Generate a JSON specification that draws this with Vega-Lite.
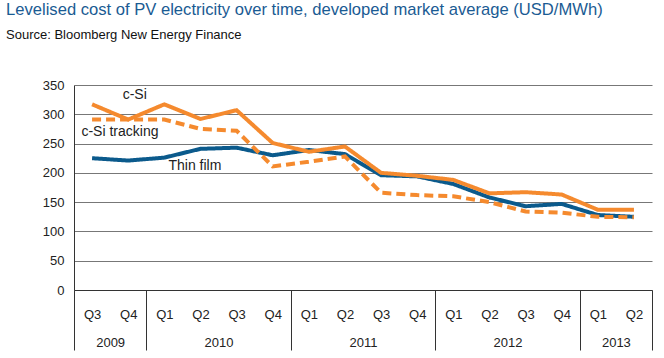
{
  "$schema": "https://vega.github.io/schema/vega-lite/v6.json",
  "width": 578,
  "height": 205,
  "autosize": {"type": "none"},
  "padding": {"left": 74, "top": 85, "right": 12, "bottom": 68},
  "background": "white",
  "title": {
    "text": "Levelised cost of PV electricity over time, developed market average (USD/MWh)",
    "subtitle": "Source: Bloomberg New Energy Finance",
    "anchor": "start",
    "frame": "group",
    "dx": -68,
    "offset": 37,
    "font": "Liberation Sans",
    "fontSize": 16.6,
    "fontWeight": "normal",
    "color": "#1a5b93",
    "subtitleFont": "Liberation Sans",
    "subtitleFontSize": 13,
    "subtitleColor": "#111111",
    "subtitlePadding": 10
  },
  "config": {"view": {"stroke": null}, "font": "Liberation Sans"},
  "datasets": {
    "lcoe": [
      {"period": "2009 Q3", "t": 2009.625, "series": "Thin film", "value": 225},
      {"period": "2009 Q4", "t": 2009.875, "series": "Thin film", "value": 221},
      {"period": "2010 Q1", "t": 2010.125, "series": "Thin film", "value": 226},
      {"period": "2010 Q2", "t": 2010.375, "series": "Thin film", "value": 241},
      {"period": "2010 Q3", "t": 2010.625, "series": "Thin film", "value": 243},
      {"period": "2010 Q4", "t": 2010.875, "series": "Thin film", "value": 230},
      {"period": "2011 Q1", "t": 2011.125, "series": "Thin film", "value": 239},
      {"period": "2011 Q2", "t": 2011.375, "series": "Thin film", "value": 232},
      {"period": "2011 Q3", "t": 2011.625, "series": "Thin film", "value": 196},
      {"period": "2011 Q4", "t": 2011.875, "series": "Thin film", "value": 194},
      {"period": "2012 Q1", "t": 2012.125, "series": "Thin film", "value": 181},
      {"period": "2012 Q2", "t": 2012.375, "series": "Thin film", "value": 158},
      {"period": "2012 Q3", "t": 2012.625, "series": "Thin film", "value": 143},
      {"period": "2012 Q4", "t": 2012.875, "series": "Thin film", "value": 147},
      {"period": "2013 Q1", "t": 2013.125, "series": "Thin film", "value": 128},
      {"period": "2013 Q2", "t": 2013.375, "series": "Thin film", "value": 125},
      {"period": "2009 Q3", "t": 2009.625, "series": "c-Si", "value": 317},
      {"period": "2009 Q4", "t": 2009.875, "series": "c-Si", "value": 291},
      {"period": "2010 Q1", "t": 2010.125, "series": "c-Si", "value": 317},
      {"period": "2010 Q2", "t": 2010.375, "series": "c-Si", "value": 292},
      {"period": "2010 Q3", "t": 2010.625, "series": "c-Si", "value": 307},
      {"period": "2010 Q4", "t": 2010.875, "series": "c-Si", "value": 251},
      {"period": "2011 Q1", "t": 2011.125, "series": "c-Si", "value": 236},
      {"period": "2011 Q2", "t": 2011.375, "series": "c-Si", "value": 245},
      {"period": "2011 Q3", "t": 2011.625, "series": "c-Si", "value": 200},
      {"period": "2011 Q4", "t": 2011.875, "series": "c-Si", "value": 195},
      {"period": "2012 Q1", "t": 2012.125, "series": "c-Si", "value": 188},
      {"period": "2012 Q2", "t": 2012.375, "series": "c-Si", "value": 165},
      {"period": "2012 Q3", "t": 2012.625, "series": "c-Si", "value": 167},
      {"period": "2012 Q4", "t": 2012.875, "series": "c-Si", "value": 163},
      {"period": "2013 Q1", "t": 2013.125, "series": "c-Si", "value": 137},
      {"period": "2013 Q2", "t": 2013.375, "series": "c-Si", "value": 137},
      {"period": "2009 Q3", "t": 2009.625, "series": "c-Si tracking", "value": 291},
      {"period": "2009 Q4", "t": 2009.875, "series": "c-Si tracking", "value": 291},
      {"period": "2010 Q1", "t": 2010.125, "series": "c-Si tracking", "value": 291},
      {"period": "2010 Q2", "t": 2010.375, "series": "c-Si tracking", "value": 275},
      {"period": "2010 Q3", "t": 2010.625, "series": "c-Si tracking", "value": 272},
      {"period": "2010 Q4", "t": 2010.875, "series": "c-Si tracking", "value": 211},
      {"period": "2011 Q1", "t": 2011.125, "series": "c-Si tracking", "value": 219},
      {"period": "2011 Q2", "t": 2011.375, "series": "c-Si tracking", "value": 228},
      {"period": "2011 Q3", "t": 2011.625, "series": "c-Si tracking", "value": 166},
      {"period": "2011 Q4", "t": 2011.875, "series": "c-Si tracking", "value": 162},
      {"period": "2012 Q1", "t": 2012.125, "series": "c-Si tracking", "value": 160},
      {"period": "2012 Q2", "t": 2012.375, "series": "c-Si tracking", "value": 150},
      {"period": "2012 Q3", "t": 2012.625, "series": "c-Si tracking", "value": 134},
      {"period": "2012 Q4", "t": 2012.875, "series": "c-Si tracking", "value": 132},
      {"period": "2013 Q1", "t": 2013.125, "series": "c-Si tracking", "value": 125},
      {"period": "2013 Q2", "t": 2013.375, "series": "c-Si tracking", "value": 124}
    ],
    "labels": [
      {"label": "c-Si", "t": 2009.92, "value": 333},
      {"label": "c-Si tracking", "t": 2009.818, "value": 269},
      {"label": "Thin film", "t": 2010.337, "value": 211}
    ]
  },
  "encoding": {
    "x": {
      "field": "t",
      "type": "quantitative",
      "scale": {"domain": [2009.5, 2013.5], "nice": false, "zero": false},
      "axis": {
        "title": null,
        "grid": false,
        "domainColor": "#333333",
        "values": [2009.5, 2009.625, 2009.75, 2009.875, 2010, 2010.125, 2010.375, 2010.5, 2010.625, 2010.875, 2011, 2011.125, 2011.375, 2011.5, 2011.625, 2011.875, 2012, 2012.125, 2012.375, 2012.5, 2012.625, 2012.875, 2013, 2013.125, 2013.25, 2013.375, 2013.5],
        "labelExpr": "(datum.value == 2009.5 || datum.value == 2013.5 || datum.value % 1 == 0) ? '' : ((datum.value*8)%2 == 1 ? 'Q' + (floor((datum.value - floor(datum.value))*4)+1) : '' + floor(datum.value))",
        "tickSize": {"condition": {"test": "datum.value == 2009.5 || datum.value == 2013.5 || datum.value % 1 == 0", "value": 60}, "value": 0},
        "tickColor": "#333333",
        "labelPadding": {"condition": {"test": "(datum.value*8)%2 == 1", "value": 18}, "value": 46},
        "labelFontSize": 13,
        "labelColor": "#222222",
        "labelAlign": "center",
        "labelBaseline": "top",
        "labelOverlap": false,
        "labelFlush": false,
        "labelBound": false
      }
    },
    "y": {
      "field": "value",
      "type": "quantitative",
      "scale": {"domain": [0, 350], "nice": false},
      "axis": {
        "title": null,
        "values": [0, 50, 100, 150, 200, 250, 300, 350],
        "ticks": false,
        "domain": true,
        "domainColor": "#333333",
        "grid": true,
        "gridColor": "#777777",
        "labelFontSize": 13,
        "labelColor": "#222222",
        "labelPadding": 10,
        "labelOverlap": false
      }
    }
  },
  "layer": [
    {
      "data": {"name": "lcoe"},
      "mark": {"type": "line", "strokeWidth": 4, "strokeCap": "butt", "strokeJoin": "miter"},
      "encoding": {
        "color": {
          "field": "series",
          "type": "nominal",
          "scale": {"domain": ["Thin film", "c-Si", "c-Si tracking"], "range": ["#0b5a8c", "#f58a2e", "#f58a2e"]},
          "legend": null
        },
        "strokeDash": {
          "field": "series",
          "type": "nominal",
          "scale": {"domain": ["Thin film", "c-Si", "c-Si tracking"], "range": [[1, 0], [1, 0], [9, 5]]},
          "legend": null
        }
      }
    },
    {
      "data": {"name": "labels"},
      "mark": {"type": "text", "fontSize": 14, "color": "#222222", "align": "center", "baseline": "middle"},
      "encoding": {
        "text": {"field": "label"}
      }
    }
  ]
}
